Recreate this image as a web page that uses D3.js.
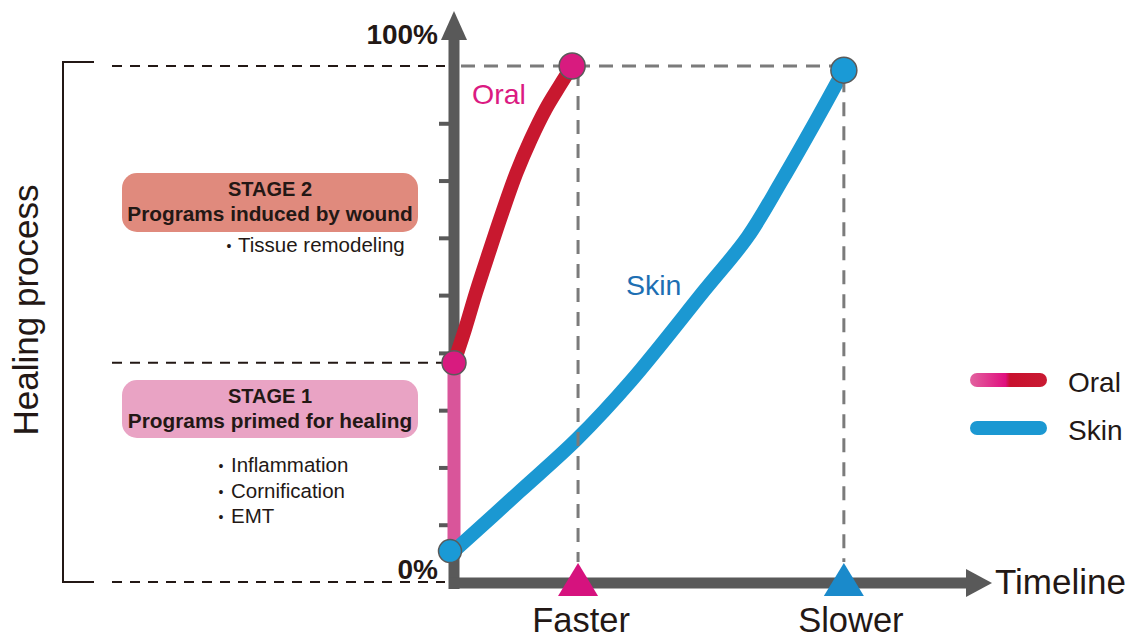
<!DOCTYPE html>
<html>
<head>
<meta charset="utf-8">
<script src="https://cdn.jsdelivr.net/npm/d3@7"></script>
<style>
  html, body { margin: 0; padding: 0; background: #ffffff; }
  svg { display: block; font-family: "Liberation Sans", Arial, Helvetica, sans-serif; }
</style>
</head>
<body>
<svg id="chart" width="1129" height="639"></svg>
<script>
// ---------------- DATA ----------------
const yLabelValues = [0, 100];
const yLabelTexts = ["0%", "100%"];
const minorTickValues = [11.1, 22.2, 33.3, 44.4, 55.6, 66.7, 77.8, 88.9];
const stageBoundary = 42.5;

const oralTime     = [0, 2.0, 4.1, 6.5, 9.0, 11.6, 14.3, 17.1, 19.7, 22.0];
const oralProgress = [42.5, 48.8, 56.1, 63.8, 71.6, 79.2, 85.8, 91.7, 96.2, 100];
const oralStage1   = [6.0, 42.5];   // vertical primed segment (time 0)

const skinTime     = [0, 12.3, 22.9, 33.0, 46.7, 54.7, 61.1, 67.2, 72.6];
const skinProgress = [6.0, 17.6, 27.7, 39.0, 56.6, 66.9, 77.9, 89.0, 99.2];

const markerLabels = ["Faster", "Slower"];
const markerTimes  = [23.1, 72.6];

const seriesNames  = ["Oral", "Skin"];

const stageTitles    = ["STAGE 2", "STAGE 1"];
const stageSubtitles = ["Programs induced by wound", "Programs primed for healing"];
const stage2Items    = ["Tissue remodeling"];
const stage1Items    = ["Inflammation", "Cornification", "EMT"];

const xAxisTitle = "Timeline";
const yAxisTitle = "Healing process";

// ---------------- STYLE ----------------
const C = {
  axis: "#595959",
  dash: "#7b7b7b",
  dark: "#231815",
  oralLine: "#c8182f",
  oralDot: "#d81b7f",
  oralLabel: "#db1a82",
  oralBar: "#d9559a",
  skinLine: "#1b98d2",
  skinDot: "#1a9ad6",
  skinLabel: "#1d6fb3",
  triOral: "#d6127e",
  triSkin: "#1a8acb",
  stage2: "#e08a7d",
  stage1: "#e9a3c4"
};

const svg = d3.select("#chart");
const x = d3.scaleLinear().domain([0, 100]).range([454, 991]);
const y = d3.scaleLinear().domain([0, 100]).range([582, 66]);

// defs: gradient for the oral legend line
const defs = svg.append("defs");
const grad = defs.append("linearGradient").attr("id", "oralGrad")
  .attr("x1", "0%").attr("x2", "100%").attr("y1", "0%").attr("y2", "0%");
grad.append("stop").attr("offset", "0%").attr("stop-color", "#e2629f");
grad.append("stop").attr("offset", "46%").attr("stop-color", "#e0107f");
grad.append("stop").attr("offset", "52%").attr("stop-color", "#c8102e");
grad.append("stop").attr("offset", "100%").attr("stop-color", "#c91a32");

// ---------------- LEFT BRACKET & BLACK DASHED GUIDES ----------------
svg.append("path")
  .attr("d", `M94,${y(100) - 4} H63 V${y(0)} H94`)
  .attr("fill", "none").attr("stroke", C.dark).attr("stroke-width", 2);

svg.selectAll("line.guide")
  .data([100, stageBoundary, 0])
  .join("line").attr("class", "guide")
  .attr("x1", 112).attr("x2", 445)
  .attr("y1", d => y(d)).attr("y2", d => y(d))
  .attr("stroke", C.dark).attr("stroke-width", 2)
  .attr("stroke-dasharray", "10,8");

// y-axis title
svg.append("text")
  .attr("transform", `translate(38,310) rotate(-90)`)
  .attr("text-anchor", "middle")
  .attr("font-size", 35)
  .attr("fill", C.dark)
  .text(yAxisTitle);

// ---------------- STAGE BOXES ----------------
const boxes = [
  { y: 173, h: 59, fill: C.stage2 },
  { y: 380, h: 58, fill: C.stage1 }
];
boxes.forEach((b, i) => {
  svg.append("rect")
    .attr("x", 122).attr("y", b.y).attr("width", 296).attr("height", b.h)
    .attr("rx", 15).attr("fill", b.fill);
  svg.append("text")
    .attr("x", 270).attr("y", b.y + 23)
    .attr("text-anchor", "middle").attr("font-weight", "bold")
    .attr("font-size", 20).attr("fill", C.dark)
    .text(stageTitles[i]);
  svg.append("text")
    .attr("x", 270).attr("y", b.y + 48)
    .attr("text-anchor", "middle").attr("font-weight", "bold")
    .attr("font-size", 20.8).attr("fill", C.dark)
    .text(stageSubtitles[i]);
});

function bulletList(items, bx, tx, y0, dy) {
  items.forEach((t, i) => {
    svg.append("text")
      .attr("x", bx).attr("y", y0 + i * dy - 1)
      .attr("text-anchor", "middle").attr("font-size", 14).attr("fill", C.dark)
      .text("•");
    svg.append("text")
      .attr("x", tx).attr("y", y0 + i * dy)
      .attr("font-size", 20.5).attr("fill", C.dark)
      .text(t);
  });
}
bulletList(stage2Items, 229, 238, 252, 25);
bulletList(stage1Items, 221, 231, 472, 25.5);

// ---------------- GRAY DASHED REFERENCE LINES ----------------
const gDash = svg.append("g");
gDash.append("line")
  .attr("x1", 461).attr("x2", x(markerTimes[1]))
  .attr("y1", y(100)).attr("y2", y(100))
  .attr("stroke", C.dash).attr("stroke-width", 3)
  .attr("stroke-dasharray", "14,9");

// ---------------- AXES ----------------
const gAxis = svg.append("g");
gAxis.append("line")
  .attr("x1", 454).attr("x2", 454).attr("y1", 589).attr("y2", 36)
  .attr("stroke", C.axis).attr("stroke-width", 11);
gAxis.append("path")
  .attr("d", "M441,40 L454,11 L467,40 Z").attr("fill", C.axis);
gAxis.append("line")
  .attr("x1", 449).attr("x2", 970).attr("y1", 583).attr("y2", 583)
  .attr("stroke", C.axis).attr("stroke-width", 11);
gAxis.append("path")
  .attr("d", "M966,569 L992,583 L966,597 Z").attr("fill", C.axis);

// minor ticks via d3 axis
const yAxis = d3.axisLeft(y).tickValues(minorTickValues).tickSize(10).tickFormat("");
const gTicks = svg.append("g").attr("transform", "translate(449,0)").call(yAxis);
gTicks.select(".domain").remove();
gTicks.selectAll(".tick line").attr("stroke", C.axis).attr("stroke-width", 4);

// y labels
svg.selectAll("text.ylab")
  .data(yLabelValues)
  .join("text").attr("class", "ylab")
  .attr("x", 438)
  .attr("y", d => d === 100 ? 44 : y(d) - 3)
  .attr("text-anchor", "end")
  .attr("font-weight", "bold").attr("font-size", 28)
  .attr("fill", C.dark)
  .text((d, i) => yLabelTexts[i]);

// ---------------- SERIES ----------------
const lineGen = d3.line().x(d => x(d[0])).y(d => y(d[1])).curve(d3.curveCatmullRom.alpha(0.5));
const oralPts = oralTime.map((t, i) => [t, oralProgress[i]]);
const skinPts = skinTime.map((t, i) => [t, skinProgress[i]]);

// oral stage-1 vertical bar
svg.append("line")
  .attr("x1", x(0)).attr("x2", x(0))
  .attr("y1", y(oralStage1[0])).attr("y2", y(oralStage1[1]))
  .attr("stroke", C.oralBar).attr("stroke-width", 13);

svg.append("path").datum(skinPts)
  .attr("d", lineGen).attr("fill", "none")
  .attr("stroke", C.skinLine).attr("stroke-width", 14)
  .attr("stroke-linejoin", "round");

svg.append("path").datum(oralPts)
  .attr("d", lineGen).attr("fill", "none")
  .attr("stroke", C.oralLine).attr("stroke-width", 14)
  .attr("stroke-linejoin", "round");

// vertical dashed lines at the marker times
gDash.raise();
svg.selectAll("line.vdash")
  .data(markerTimes)
  .join("line").attr("class", "vdash")
  .attr("x1", d => x(d)).attr("x2", d => x(d))
  .attr("y1", (d, i) => i === 0 ? y(100) + 6 : y(skinProgress[skinProgress.length - 1]) + 8)
  .attr("y2", 562)
  .attr("stroke", C.dash).attr("stroke-width", 3)
  .attr("stroke-dasharray", "14,10");

// endpoint circles
const dots = [
  { t: oralTime[0], v: oralProgress[0], r: 12, fill: C.oralDot, dx: 0 },
  { t: oralTime[oralTime.length - 1], v: oralProgress[oralProgress.length - 1], r: 13, fill: C.oralDot, dx: 0 },
  { t: skinTime[0], v: skinProgress[0], r: 11.5, fill: C.skinDot, dx: -4 },
  { t: skinTime[skinTime.length - 1], v: skinProgress[skinProgress.length - 1], r: 13, fill: C.skinDot, dx: 0 }
];
svg.selectAll("circle.end")
  .data(dots).join("circle").attr("class", "end")
  .attr("cx", d => x(d.t) + d.dx)
  .attr("cy", d => y(d.v))
  .attr("r", d => d.r)
  .attr("fill", d => d.fill)
  .attr("stroke", "#5a5a5a").attr("stroke-width", 1.5);

// markers on the time axis
const triColors = [C.triOral, C.triSkin];
svg.selectAll("path.tri")
  .data(markerTimes).join("path").attr("class", "tri")
  .attr("d", d => `M${x(d) - 20},596 L${x(d)},563 L${x(d) + 20},596 Z`)
  .attr("fill", (d, i) => triColors[i]);

svg.selectAll("text.mlab")
  .data(markerTimes).join("text").attr("class", "mlab")
  .attr("x", (d, i) => x(d) + (i === 0 ? 3 : 7)).attr("y", 632)
  .attr("text-anchor", "middle").attr("font-size", 34.5).attr("fill", C.dark)
  .text((d, i) => markerLabels[i]);

svg.append("text")
  .attr("x", 995).attr("y", 594)
  .attr("font-size", 35).attr("fill", C.dark)
  .text(xAxisTitle);

// in-chart series labels
svg.append("text").attr("x", 472).attr("y", 104)
  .attr("font-size", 28.5).attr("fill", C.oralLabel).text(seriesNames[0]);
svg.append("text").attr("x", 626).attr("y", 295)
  .attr("font-size", 28.5).attr("fill", C.skinLabel).text(seriesNames[1]);

// ---------------- LEGEND ----------------
const legend = svg.append("g");
const legendStroke = ["url(#oralGrad)", C.skinLine];
seriesNames.forEach((n, i) => {
  const ly = 380 + i * 48;
  legend.append("rect")
    .attr("x", 970).attr("y", ly - 7).attr("width", 77).attr("height", 14)
    .attr("rx", 7).attr("fill", legendStroke[i]);
  legend.append("text")
    .attr("x", 1068).attr("y", ly + 12)
    .attr("font-size", 28).attr("fill", C.dark)
    .text(n);
});
</script>
</body>
</html>
